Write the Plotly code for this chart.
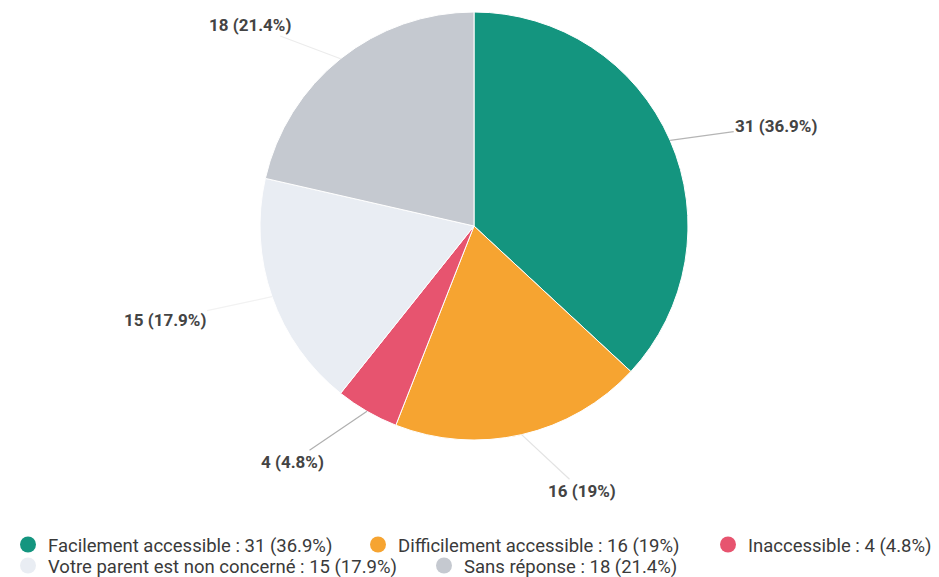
import math
import plotly.graph_objects as go

labels = ["Facilement accessible", "Difficilement accessible", "Inaccessible",
          "Votre parent est non concerné", "Sans réponse"]
values = [31, 16, 4, 15, 18]
colors = ["#14957f", "#f6a431", "#e7546f", "#e9edf3", "#c5c9d0"]
connector_colors = ["#b5b5b5", "#e3e3e3", "#b0b0b0", "#f2f2f2", "#ececec"]

W, H = 939, 577
OFF = 8  # page body margin
CX, CY, R = 474 - OFF, 226 - OFF, 214

# legend item placement (page px of the marker centre)
legend_pos = [(18, 545), (377, 545), (727, 545), (18, 566), (443, 566)]

total = sum(values)

def pct(v):
    p = round(v / total * 100, 1)
    s = f"{p:.1f}"
    if s.endswith(".0"):
        s = s[:-2]
    return s + "%"

texts = [f"{v} ({pct(v)})" for v in values]
names = [f"{l} : {t}" for l, t in zip(labels, texts)]

fig = go.Figure()
fig.add_trace(go.Pie(
    labels=labels, values=values, sort=False, direction="clockwise", rotation=0,
    marker=dict(colors=colors, line=dict(color="white", width=1)),
    textinfo="none", hoverinfo="label+value+percent", showlegend=False,
    domain=dict(x=[(CX - R) / W, (CX + R) / W], y=[1 - (CY + R) / H, 1 - (CY - R) / H]),
))

legend_font = dict(family="Roboto", size=18.5, color="#3a3a3a")
legend_layouts = {}
for i, (n, c, (lx, ly)) in enumerate(zip(names, colors, legend_pos)):
    key = "legend" if i == 0 else f"legend{i + 1}"
    fig.add_trace(go.Scatter(x=[None], y=[None], mode="markers", name=n, legend=key,
                             marker=dict(symbol="circle", size=17, color=c),
                             showlegend=True, hoverinfo="skip"))
    legend_layouts[key] = dict(orientation="h", xref="container", yref="container",
                               x=(lx - OFF - 19) / W, y=1 - (ly - OFF) / H,
                               xanchor="left", yanchor="middle", font=legend_font,
                               bgcolor="rgba(0,0,0,0)", borderwidth=0)

# outside labels with leader lines, positions derived from slice angles
cum = 0
for v, t, cc in zip(values, texts, connector_colors):
    mid = (cum + v / 2) / total * 2 * math.pi
    cum += v
    s, c = math.sin(mid), math.cos(mid)
    px, py = CX + R * s, CY - R * c
    ext = 0.24 * R
    sign = 1 if s >= 0 else -1
    half = len(t) * 5.1
    ax = ext * s + sign * (half + 8)
    ay = -ext * c + 6
    fig.add_annotation(x=px / W, y=1 - py / H, xref="paper", yref="paper",
                       text=f"<b>{t}</b>", showarrow=True, arrowhead=0, arrowwidth=1.2,
                       arrowcolor=cc, ax=ax, ay=ay, standoff=0,
                       font=dict(family="Roboto", size=17, color="#444444"))

fig.update_layout(
    width=W, height=H,
    margin=dict(l=0, r=0, t=0, b=0, autoexpand=False),
    paper_bgcolor="white", plot_bgcolor="white",
    xaxis=dict(visible=False), yaxis=dict(visible=False),
    font=dict(family="Roboto"),
    **legend_layouts,
)

fig.write_html("out.html")
